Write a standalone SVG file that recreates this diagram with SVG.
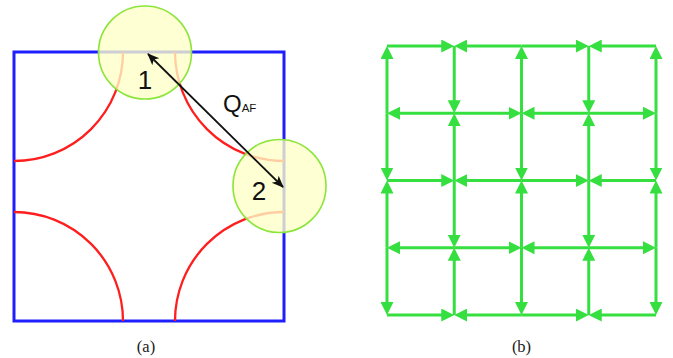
<svg xmlns="http://www.w3.org/2000/svg" width="673" height="358" viewBox="0 0 673 358">
<style>
.sq{fill:none;stroke:#1e1eff;stroke-width:3}
.arc{fill:none;stroke:#ff1e1e;stroke-width:2.3}
.site{fill:#ffffc8;fill-opacity:0.78;stroke:#8be53a;stroke-width:1.6}
.num{font-family:"Liberation Sans",Arial,sans-serif;font-size:26px;fill:#111;text-anchor:middle}
.q{font-family:"Liberation Sans",Arial,sans-serif;fill:#111}
.cap{font-family:"Liberation Serif","Times New Roman",serif;font-size:16.5px;fill:#222;text-anchor:middle}
.e{stroke:#36df40;stroke-width:3;marker-end:url(#ah)}
</style>
<defs>
<marker id="ah" viewBox="0 0 13 13" markerWidth="13" markerHeight="13" refX="3" refY="6.5" orient="auto" markerUnits="userSpaceOnUse">
<path d="M0,0 L13,6.5 L0,13 z" fill="#36df40"/>
</marker>
<marker id="bh" viewBox="0 0 12 12" markerWidth="12" markerHeight="12" refX="11" refY="6" orient="auto-start-reverse" markerUnits="userSpaceOnUse">
<path d="M0,1 L12,6 L0,11 L3,6 z" fill="#111"/>
</marker>
</defs>
<rect width="673" height="358" fill="#fff"/>

<g id="panel-a">
<rect class="sq" x="14" y="52" width="270" height="269"/>
<g id="arcs">
<path class="arc" d="M14,161 A109,109 0 0 0 123,52"/>
<path class="arc" d="M175,52 A109,109 0 0 0 284,161"/>
<path class="arc" d="M14,212 A109,109 0 0 1 123,321"/>
<path class="arc" d="M175,321 A109,109 0 0 1 284,212"/>
</g>
<g id="site1">
<circle class="site" cx="145" cy="52.5" r="46.5"/>
<text class="num" x="145" y="89">1</text>
</g>
<g id="site2">
<circle class="site" cx="279.5" cy="186" r="46.5"/>
<text class="num" x="259" y="200">2</text>
</g>
<g id="qaf">
<line x1="148" y1="54" x2="283" y2="187" stroke="#111" stroke-width="1.8" marker-start="url(#bh)" marker-end="url(#bh)"/>
<text class="q" x="223" y="112" font-size="24">Q<tspan font-size="11.5">AF</tspan></text>
</g>
<text class="cap" x="146" y="352">(a)</text>
</g>

<g id="panel-b">
<g id="connectors">
<line class="e" x1="387" y1="46" x2="444.25" y2="46"/>
<line class="e" x1="521.5" y1="46" x2="464.25" y2="46"/>
<line class="e" x1="521.5" y1="46" x2="578.75" y2="46"/>
<line class="e" x1="656" y1="46" x2="598.75" y2="46"/>
<line class="e" x1="387" y1="180.5" x2="444.25" y2="180.5"/>
<line class="e" x1="521.5" y1="180.5" x2="464.25" y2="180.5"/>
<line class="e" x1="521.5" y1="180.5" x2="578.75" y2="180.5"/>
<line class="e" x1="656" y1="180.5" x2="598.75" y2="180.5"/>
<line class="e" x1="387" y1="315" x2="444.25" y2="315"/>
<line class="e" x1="521.5" y1="315" x2="464.25" y2="315"/>
<line class="e" x1="521.5" y1="315" x2="578.75" y2="315"/>
<line class="e" x1="656" y1="315" x2="598.75" y2="315"/>
<line class="e" x1="454.25" y1="113.25" x2="397" y2="113.25"/>
<line class="e" x1="454.25" y1="113.25" x2="511.5" y2="113.25"/>
<line class="e" x1="588.75" y1="113.25" x2="531.5" y2="113.25"/>
<line class="e" x1="588.75" y1="113.25" x2="646" y2="113.25"/>
<line class="e" x1="454.25" y1="247.75" x2="397" y2="247.75"/>
<line class="e" x1="454.25" y1="247.75" x2="511.5" y2="247.75"/>
<line class="e" x1="588.75" y1="247.75" x2="531.5" y2="247.75"/>
<line class="e" x1="588.75" y1="247.75" x2="646" y2="247.75"/>
<line class="e" x1="387" y1="113.25" x2="387" y2="56"/>
<line class="e" x1="387" y1="113.25" x2="387" y2="170.5"/>
<line class="e" x1="387" y1="247.75" x2="387" y2="190.5"/>
<line class="e" x1="387" y1="247.75" x2="387" y2="305"/>
<line class="e" x1="521.5" y1="113.25" x2="521.5" y2="56"/>
<line class="e" x1="521.5" y1="113.25" x2="521.5" y2="170.5"/>
<line class="e" x1="521.5" y1="247.75" x2="521.5" y2="190.5"/>
<line class="e" x1="521.5" y1="247.75" x2="521.5" y2="305"/>
<line class="e" x1="656" y1="113.25" x2="656" y2="56"/>
<line class="e" x1="656" y1="113.25" x2="656" y2="170.5"/>
<line class="e" x1="656" y1="247.75" x2="656" y2="190.5"/>
<line class="e" x1="656" y1="247.75" x2="656" y2="305"/>
<line class="e" x1="454.25" y1="46" x2="454.25" y2="103.25"/>
<line class="e" x1="454.25" y1="180.5" x2="454.25" y2="123.25"/>
<line class="e" x1="454.25" y1="180.5" x2="454.25" y2="237.75"/>
<line class="e" x1="454.25" y1="315" x2="454.25" y2="257.75"/>
<line class="e" x1="588.75" y1="46" x2="588.75" y2="103.25"/>
<line class="e" x1="588.75" y1="180.5" x2="588.75" y2="123.25"/>
<line class="e" x1="588.75" y1="180.5" x2="588.75" y2="237.75"/>
<line class="e" x1="588.75" y1="315" x2="588.75" y2="257.75"/>
</g>
<text class="cap" x="521.5" y="352">(b)</text>
</g>
</svg>
